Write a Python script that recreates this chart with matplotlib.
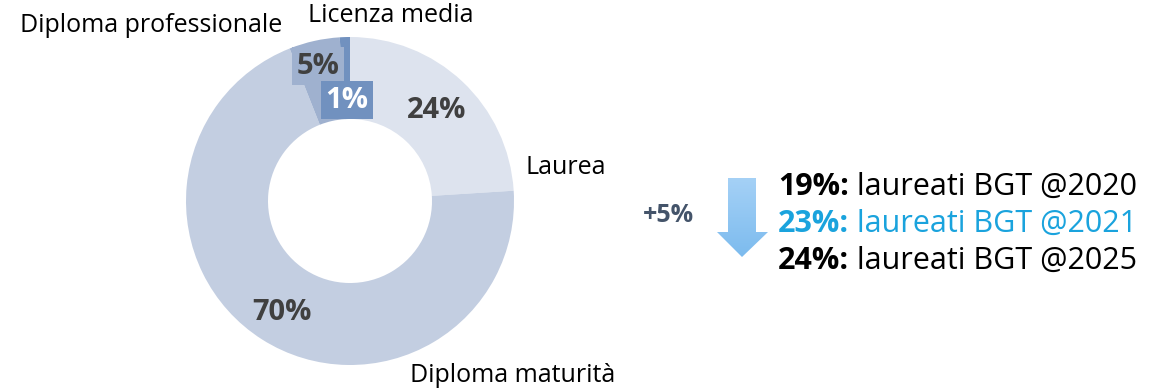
import matplotlib
matplotlib.use("Agg")
import matplotlib.pyplot as plt
import numpy as np
from matplotlib.patches import Polygon
from matplotlib.colors import LinearSegmentedColormap

# Titolo di studio della popolazione
categories = ["Laurea", "Diploma maturità", "Diploma professionale", "Licenza media"]
shares = [24, 70, 5, 1]
colors = ["#dde3ee", "#c3cee1", "#9fb1cf", "#7191bf"]

# Quota di laureati BGT per anno
years = ["2020", "2021", "2025"]
graduate_pct = [19, 23, 24]
year_colors = ["#000000", "#1aa3dd", "#000000"]
delta_label = "+5%"

W, H = 1164, 391
fig = plt.figure(figsize=(W / 100, H / 100), dpi=100)
ax = fig.add_axes([0, 0, 1, 1])

FONT = "Open Sans"

def Y(y):
    return H - y

cx, cy, R = 350, 201, 164
ax.pie(shares, colors=colors, startangle=90, counterclock=False,
       center=(cx, Y(cy)), radius=R, frame=True,
       wedgeprops=dict(width=R * 0.5, linewidth=0))
ax.set_xlim(0, W)
ax.set_ylim(0, H)
ax.set_aspect("equal")
ax.axis("off")

# percentage labels
pct_style = dict(fontsize=21, fontweight="bold", family=FONT, ha="center", va="center")
ax.text(437, Y(111), f"{shares[0]}%", color="#404040", **pct_style)
ax.text(282, Y(313), f"{shares[1]}%", color="#404040", **pct_style)
ax.text(318, Y(66), f"{shares[2]}%", color="#404040",
        bbox=dict(boxstyle="square,pad=0.15", fc=colors[2], ec="none"), **pct_style)
ax.text(347, Y(100), f"{shares[3]}%", color="white",
        bbox=dict(boxstyle="square,pad=0.15", fc=colors[3], ec="none"), **pct_style)

# category labels
cat_style = dict(fontsize=18, family=FONT, color="#000000", va="center")
ax.text(20, Y(25), categories[2], ha="left", **cat_style)
ax.text(308, Y(15), categories[3], ha="left", **cat_style)
ax.text(525, Y(168), categories[0], ha="left", **cat_style)
ax.text(410, Y(376), categories[1], ha="left", **cat_style)

# gradient arrow
arrow_pts = [(728, 178), (756, 178), (756, 232), (768, 232),
             (742, 257), (717, 232), (728, 232)]
poly = Polygon([(x, Y(y)) for x, y in arrow_pts], closed=True,
               fc="none", ec="none")
ax.add_patch(poly)
cmap = LinearSegmentedColormap.from_list("arrow", ["#a5d1f6", "#7cbbee"])
grad = np.linspace(0, 1, 256).reshape(-1, 1)
im = ax.imshow(grad, cmap=cmap, extent=(717, 768, Y(257), Y(178)),
               origin="upper", aspect="auto", zorder=2)
im.set_clip_path(poly)
ax.set_xlim(0, W)
ax.set_ylim(0, H)

ax.text(668, Y(215), delta_label, fontsize=18, fontweight="bold", family=FONT,
        color="#44546a", ha="center", va="center")

# yearly graduate shares
y0, dy = 187, 37
for i, (yr, p, c) in enumerate(zip(years, graduate_pct, year_colors)):
    yy = Y(y0 + i * dy)
    t = ax.text(778, yy, f"{p}%:", fontsize=22, fontweight="bold", family=FONT,
                color=c, ha="left", va="center")
    ax.annotate(f" laureati BGT @{yr}", xycoords=t, xy=(1, 0.5),
                fontsize=22, family=FONT, color=c, ha="left", va="center")

fig.savefig("out.png", dpi=100)
